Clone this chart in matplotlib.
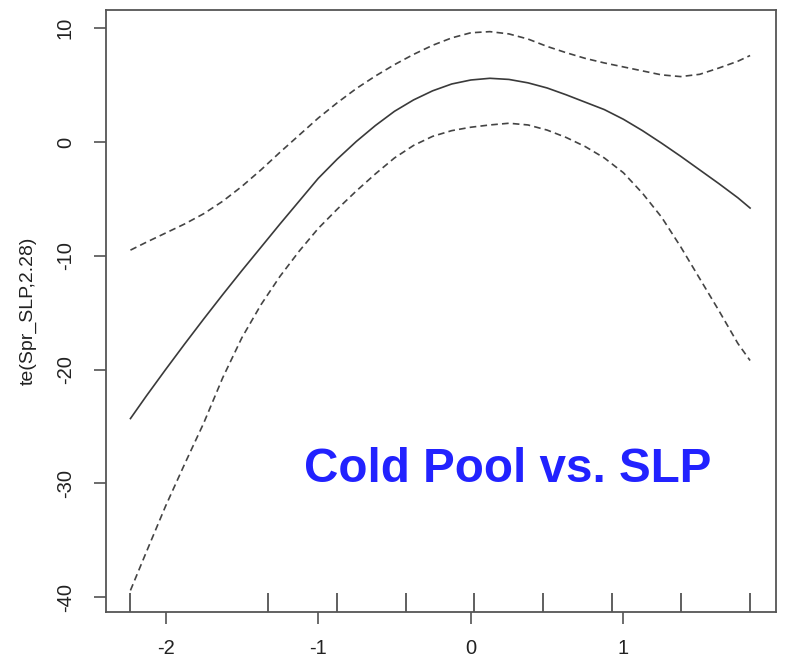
import matplotlib
matplotlib.use('Agg')
import matplotlib.pyplot as plt

# smooth term estimate and its confidence band
x = [-2.23, -2.125, -2.0, -1.875, -1.75, -1.625, -1.5, -1.375, -1.25, -1.125,
     -1.0, -0.875, -0.75, -0.625, -0.5, -0.375, -0.25, -0.125, 0.0, 0.125,
     0.25, 0.375, 0.5, 0.625, 0.75, 0.875, 1.0, 1.125, 1.25, 1.375,
     1.5, 1.625, 1.75, 1.83]
fit = [-24.3, -22.3, -20.0, -17.75, -15.55, -13.4, -11.3, -9.25, -7.2, -5.2,
       -3.2, -1.5, 0.05, 1.45, 2.7, 3.7, 4.5, 5.1, 5.45, 5.6,
       5.5, 5.2, 4.75, 4.15, 3.5, 2.85, 2.0, 1.0, -0.1, -1.25,
       -2.45, -3.65, -4.9, -5.8]
upper = [-9.5, -8.8, -8.0, -7.2, -6.3, -5.2, -3.9, -2.45, -0.9, 0.6,
         2.1, 3.45, 4.7, 5.8, 6.8, 7.7, 8.5, 9.15, 9.6, 9.7,
         9.5, 9.05, 8.4, 7.85, 7.35, 6.95, 6.6, 6.25, 5.9, 5.75,
         5.95, 6.5, 7.1, 7.6]
lower = [-39.4, -36.0, -32.0, -28.3, -24.7, -20.7, -17.2, -14.3, -11.8, -9.6,
         -7.6, -5.9, -4.3, -2.8, -1.4, -0.3, 0.5, 1.0, 1.3, 1.5,
         1.65, 1.5, 1.05, 0.4, -0.4, -1.4, -2.7, -4.5, -6.6, -9.2,
         -12.0, -14.8, -17.7, -19.2]
rug = [-2.23, -1.33, -0.877, -0.425, 0.02, 0.47, 0.923, 1.375, 1.83]

xticks = [-2, -1, 0, 1]
yticks = [-40, -30, -20, -10, 0, 10]

plt.rcParams['font.family'] = ['Liberation Sans', 'DejaVu Sans']

fig = plt.figure(figsize=(7.86, 6.59), dpi=100)
ax = fig.add_axes([0.1349, 0.0713, 0.8524, 0.9135])

ax.plot(x, fit, color='#3a3a3a', lw=1.2)
ax.plot(x, upper, color='#444444', lw=1.2, linestyle=(0, (4, 2.5)))
ax.plot(x, lower, color='#444444', lw=1.2, linestyle=(0, (4, 2.5)))
ax.vlines(rug, 0, 0.032, color='#444444', lw=1.2,
          transform=ax.get_xaxis_transform())

ax.set_xlim(-2.39, 2.0)
ax.set_ylim(-41.3, 11.6)
ax.set_xticks(xticks)
ax.set_xticklabels([str(v) for v in xticks])
ax.set_yticks(yticks)
ax.set_yticklabels([str(v) for v in yticks], rotation=90, va='center')
ax.set_ylabel('te(Spr_SLP,2.28)', fontsize=14, color='#222222', labelpad=14)

ax.tick_params(axis='both', length=8.5, width=1.1, color='#444444',
               labelsize=14.5, labelcolor='#222222')
ax.tick_params(axis='x', pad=11)
ax.tick_params(axis='y', pad=14)
for s in ax.spines.values():
    s.set_color('#555555')
    s.set_linewidth(1.3)

fig.text(508 / 786, 1 - 469 / 659, 'Cold Pool vs. SLP', fontsize=34.3,
         fontweight='bold', color='#2222ff', ha='center', va='center')

fig.savefig('out.png', dpi=100)
